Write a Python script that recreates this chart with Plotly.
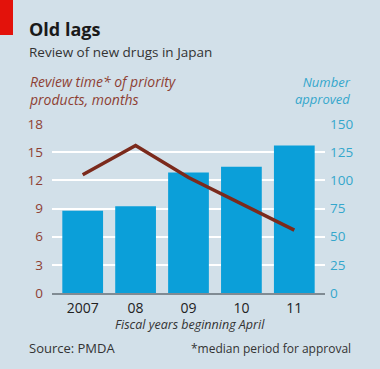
import plotly.graph_objects as go

years = ["2007", "08", "09", "10", "11"]
approved = [73, 77, 107, 112, 131]
review_months = [12.6, 15.7, 12.3, 9.5, 6.7]
left_ticks = [0, 3, 6, 9, 12, 15, 18]
right_ticks = [0, 25, 50, 75, 100, 125, 150]

W, H = 380, 369
L, R, T, B = 52, 55, 124, 76
FONT = "Open Sans"
BG = "#d2e0e9"
BAR = "#0b9fd9"
LINE = "#7b2a1c"
LTXT = "#8e3f33"
RTXT = "#35a7cc"

def px(x):
    return (x - L) / (W - L - R)

def py(y):
    return (H - B - y) / (H - T - B)

fig = go.Figure()
fig.add_trace(go.Bar(x=years, y=approved, marker_color=BAR, marker_line_width=0,
                     yaxis="y", hoverinfo="skip"))
fig.add_trace(go.Scatter(x=years, y=review_months, mode="lines",
                         line=dict(color=LINE, width=3.5), yaxis="y2", hoverinfo="skip"))

fig.update_layout(
    width=W, height=H,
    margin=dict(l=L, r=R, t=T, b=B, autoexpand=False),
    paper_bgcolor=BG, plot_bgcolor=BG,
    showlegend=False, bargap=0.23,
    font=dict(family=FONT, size=13, color="#333"),
    xaxis=dict(range=[-0.58, 4.58], showgrid=False, showline=True, linecolor="#808b93",
               linewidth=1.5, ticks="", tickfont=dict(size=14, color="#222"),
               ticklabelstandoff=1, automargin=False, fixedrange=True),
    yaxis=dict(side="right", range=[0, 150], tickvals=right_ticks, showgrid=True,
               gridcolor="white", gridwidth=1.5, zeroline=False, automargin=False,
               tickfont=dict(size=13.5, color=RTXT), ticklabelstandoff=4),
    yaxis2=dict(side="left", overlaying="y", range=[0, 18], tickvals=left_ticks,
                showgrid=False, zeroline=False, automargin=False,
                tickfont=dict(size=13.5, color=LTXT), ticklabelstandoff=8),
)

shapes = [dict(type="rect", xref="paper", yref="paper", x0=px(0), x1=px(13),
               y0=py(35), y1=py(0), fillcolor="#e3120b", line_width=0)]
fig.update_layout(shapes=shapes)

ann = [
    dict(text="<b>Old lags</b>", x=px(27), y=py(29), xanchor="left", yanchor="middle",
         font=dict(size=18, color="#1a1a1a")),
    dict(text="Review of new drugs in Japan", x=px(27), y=py(52), xanchor="left", yanchor="middle",
         font=dict(size=13.5, color="#333")),
    dict(text="<i>Review time* of priority<br>products, months</i>", x=px(27), y=py(90),
         xanchor="left", yanchor="middle", align="left",
         font=dict(size=14, color=LTXT)),
    dict(text="<i>Number<br>approved</i>", x=px(353), y=py(90), xanchor="right", yanchor="middle",
         align="right", font=dict(size=13, color=RTXT)),
    dict(text="<i>Fiscal years beginning April</i>", x=px(190), y=py(324), xanchor="center",
         yanchor="middle", font=dict(size=12.5, color="#333")),
    dict(text="Source: PMDA", x=px(27), y=py(348), xanchor="left", yanchor="middle",
         font=dict(size=13, color="#333")),
    dict(text="*median period for approval", x=px(353), y=py(348), xanchor="right",
         yanchor="middle", font=dict(size=12, color="#333")),
]
for a in ann:
    a.update(xref="paper", yref="paper", showarrow=False)
fig.update_layout(annotations=ann)

fig.write_html("out.html", config={"displayModeBar": False},
               post_script="document.body.style.margin='0';document.body.style.overflow='hidden';")
